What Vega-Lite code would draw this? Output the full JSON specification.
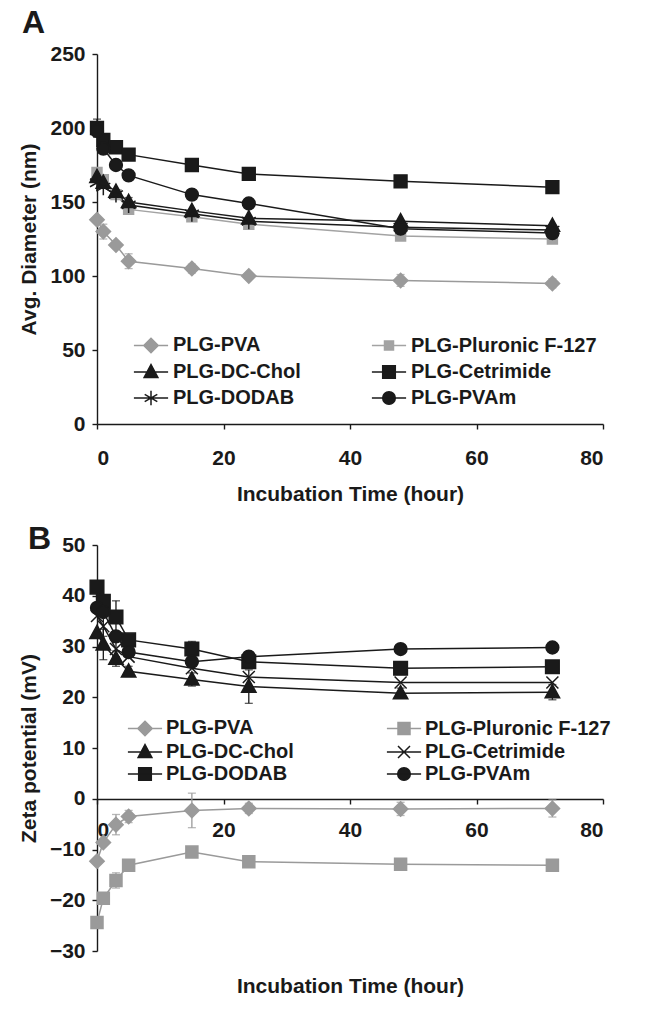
{
  "$schema": "https://vega.github.io/schema/vega-lite/v6.json",
  "background": "white",
  "padding": {"left": 18, "top": 6, "right": 5, "bottom": 5},
  "spacing": 19,
  "config": {
    "view": {"stroke": null},
    "font": "Liberation Sans",
    "axis": {"domainColor": "#1a1a1a", "domainWidth": 1.4, "tickColor": "#1a1a1a", "tickWidth": 1.4, "tickSize": 5, "labelFont": "Liberation Sans", "labelFontSize": 21, "labelFontWeight": "bold", "labelColor": "#1a1a1a", "titleFont": "Liberation Sans", "titleFontSize": 21, "titleFontWeight": "bold", "titleColor": "#1a1a1a", "grid": false},
    "legend": {"labelFont": "Liberation Sans", "labelFontSize": 20, "labelFontWeight": "bold", "labelColor": "#1a1a1a", "labelLimit": 300, "symbolSize": 144, "symbolStrokeWidth": 1.5, "padding": 0},
    "title": {"font": "Liberation Sans", "fontSize": 32, "fontWeight": "bold", "anchor": "start", "color": "#1a1a1a", "frame": "group"}
  },
  "datasets": {
    "a": [
      {"series": "PLG-PVA", "t": 0, "v": 138}, {"series": "PLG-PVA", "t": 1, "v": 130, "err": 5}, {"series": "PLG-PVA", "t": 3, "v": 121}, {"series": "PLG-PVA", "t": 5, "v": 110, "err": 5}, {"series": "PLG-PVA", "t": 15, "v": 105, "err": 3}, {"series": "PLG-PVA", "t": 24, "v": 100}, {"series": "PLG-PVA", "t": 48, "v": 97, "err": 4}, {"series": "PLG-PVA", "t": 72, "v": 95, "err": 3},
      {"series": "PLG-Pluronic F-127", "t": 0, "v": 170}, {"series": "PLG-Pluronic F-127", "t": 1, "v": 165}, {"series": "PLG-Pluronic F-127", "t": 3, "v": 155}, {"series": "PLG-Pluronic F-127", "t": 5, "v": 145}, {"series": "PLG-Pluronic F-127", "t": 15, "v": 140}, {"series": "PLG-Pluronic F-127", "t": 24, "v": 135}, {"series": "PLG-Pluronic F-127", "t": 48, "v": 127}, {"series": "PLG-Pluronic F-127", "t": 72, "v": 125},
      {"series": "PLG-DC-Chol", "t": 0, "v": 167}, {"series": "PLG-DC-Chol", "t": 1, "v": 163}, {"series": "PLG-DC-Chol", "t": 3, "v": 157}, {"series": "PLG-DC-Chol", "t": 5, "v": 150, "err": 3}, {"series": "PLG-DC-Chol", "t": 15, "v": 144}, {"series": "PLG-DC-Chol", "t": 24, "v": 139}, {"series": "PLG-DC-Chol", "t": 48, "v": 137}, {"series": "PLG-DC-Chol", "t": 72, "v": 134},
      {"series": "PLG-Cetrimide", "t": 0, "v": 200, "err": 6}, {"series": "PLG-Cetrimide", "t": 1, "v": 192}, {"series": "PLG-Cetrimide", "t": 3, "v": 187}, {"series": "PLG-Cetrimide", "t": 5, "v": 182}, {"series": "PLG-Cetrimide", "t": 15, "v": 175}, {"series": "PLG-Cetrimide", "t": 24, "v": 169}, {"series": "PLG-Cetrimide", "t": 48, "v": 164}, {"series": "PLG-Cetrimide", "t": 72, "v": 160},
      {"series": "PLG-DODAB", "t": 0, "v": 163}, {"series": "PLG-DODAB", "t": 1, "v": 160}, {"series": "PLG-DODAB", "t": 3, "v": 155}, {"series": "PLG-DODAB", "t": 5, "v": 148}, {"series": "PLG-DODAB", "t": 15, "v": 142}, {"series": "PLG-DODAB", "t": 24, "v": 137}, {"series": "PLG-DODAB", "t": 48, "v": 133}, {"series": "PLG-DODAB", "t": 72, "v": 131},
      {"series": "PLG-PVAm", "t": 0, "v": 198, "err": 4}, {"series": "PLG-PVAm", "t": 1, "v": 186}, {"series": "PLG-PVAm", "t": 3, "v": 175}, {"series": "PLG-PVAm", "t": 5, "v": 168}, {"series": "PLG-PVAm", "t": 15, "v": 155}, {"series": "PLG-PVAm", "t": 24, "v": 149}, {"series": "PLG-PVAm", "t": 48, "v": 132}, {"series": "PLG-PVAm", "t": 72, "v": 129}
    ],
    "b": [
      {"series": "PLG-PVA", "t": 0, "v": -12.3}, {"series": "PLG-PVA", "t": 1, "v": -8.6}, {"series": "PLG-PVA", "t": 3, "v": -5.1, "err": 2}, {"series": "PLG-PVA", "t": 5, "v": -3.5, "err": 1.2}, {"series": "PLG-PVA", "t": 15, "v": -2.3, "err": 3.4}, {"series": "PLG-PVA", "t": 24, "v": -1.9, "err": 1}, {"series": "PLG-PVA", "t": 48, "v": -2, "err": 1.3}, {"series": "PLG-PVA", "t": 72, "v": -1.9, "err": 1.7},
      {"series": "PLG-Pluronic F-127", "t": 0, "v": -24.4, "err": 1}, {"series": "PLG-Pluronic F-127", "t": 1, "v": -19.6}, {"series": "PLG-Pluronic F-127", "t": 3, "v": -16.1, "err": 1.5}, {"series": "PLG-Pluronic F-127", "t": 5, "v": -13.1}, {"series": "PLG-Pluronic F-127", "t": 15, "v": -10.5}, {"series": "PLG-Pluronic F-127", "t": 24, "v": -12.4}, {"series": "PLG-Pluronic F-127", "t": 48, "v": -12.9}, {"series": "PLG-Pluronic F-127", "t": 72, "v": -13.1},
      {"series": "PLG-DC-Chol", "t": 0, "v": 32.7}, {"series": "PLG-DC-Chol", "t": 1, "v": 30.4, "err": 3}, {"series": "PLG-DC-Chol", "t": 3, "v": 27.6, "err": 1.5}, {"series": "PLG-DC-Chol", "t": 5, "v": 25.1, "err": 1}, {"series": "PLG-DC-Chol", "t": 15, "v": 23.5, "err": 1.3}, {"series": "PLG-DC-Chol", "t": 24, "v": 22.1, "err": 3.3}, {"series": "PLG-DC-Chol", "t": 48, "v": 20.8, "err": 1}, {"series": "PLG-DC-Chol", "t": 72, "v": 21, "err": 1.5},
      {"series": "PLG-Cetrimide", "t": 0, "v": 36}, {"series": "PLG-Cetrimide", "t": 1, "v": 34, "err": 2}, {"series": "PLG-Cetrimide", "t": 3, "v": 29.5, "err": 1.5}, {"series": "PLG-Cetrimide", "t": 5, "v": 28}, {"series": "PLG-Cetrimide", "t": 15, "v": 25.7}, {"series": "PLG-Cetrimide", "t": 24, "v": 24}, {"series": "PLG-Cetrimide", "t": 48, "v": 22.9}, {"series": "PLG-Cetrimide", "t": 72, "v": 22.9},
      {"series": "PLG-DODAB", "t": 0, "v": 41.7}, {"series": "PLG-DODAB", "t": 1, "v": 38.9}, {"series": "PLG-DODAB", "t": 3, "v": 35.8, "err": 3.2}, {"series": "PLG-DODAB", "t": 5, "v": 31.3}, {"series": "PLG-DODAB", "t": 15, "v": 29.5, "err": 1.5}, {"series": "PLG-DODAB", "t": 24, "v": 27}, {"series": "PLG-DODAB", "t": 48, "v": 25.7}, {"series": "PLG-DODAB", "t": 72, "v": 26},
      {"series": "PLG-PVAm", "t": 0, "v": 37.6}, {"series": "PLG-PVAm", "t": 1, "v": 36.8}, {"series": "PLG-PVAm", "t": 3, "v": 32}, {"series": "PLG-PVAm", "t": 5, "v": 28.9}, {"series": "PLG-PVAm", "t": 15, "v": 27}, {"series": "PLG-PVAm", "t": 24, "v": 28}, {"series": "PLG-PVAm", "t": 48, "v": 29.5}, {"series": "PLG-PVAm", "t": 72, "v": 29.8}
    ]
  },
  "resolve": {"scale": {"color": "independent", "shape": "independent", "stroke": "independent"}, "legend": {"color": "independent", "shape": "independent", "stroke": "independent"}},
  "vconcat": [
    {
      "title": {"text": "A", "offset": 3.5, "dx": -75},
      "width": 506,
      "height": 370,
      "data": {"name": "a"},
      "encoding": {
        "x": {"field": "t", "type": "quantitative", "scale": {"domain": [0, 80]}, "axis": {"values": [0, 20, 40, 60, 80], "title": "Incubation Time (hour)", "labelPadding": 18, "titlePadding": 15}},
        "y": {"field": "v", "type": "quantitative", "scale": {"domain": [0, 250]}, "axis": {"values": [0, 50, 100, 150, 200, 250], "title": "Avg. Diameter (nm)", "labelPadding": 7, "titlePadding": 10}}
      },
      "resolve": {"scale": {"color": "independent", "shape": "independent", "stroke": "independent"}},
      "layer": [
        {
          "transform": [{"filter": "datum.t < 0"}],
          "mark": {"type": "point", "filled": true, "strokeWidth": 1.5, "opacity": 1},
          "encoding": {
            "color": {"field": "series", "type": "nominal", "scale": {"domain": ["PLG-PVA", "PLG-Pluronic F-127", "PLG-DC-Chol", "PLG-Cetrimide", "PLG-DODAB", "PLG-PVAm"], "range": ["#9a9a9a", "#a3a3a3", "#1a1a1a", "#1a1a1a", "#1a1a1a", "#1a1a1a"]},
              "legend": {"orient": "none", "direction": "horizontal", "legendX": 44, "legendY": 281, "columns": 2, "columnPadding": 67, "rowPadding": 5, "labelOffset": 12, "title": null, "symbolOpacity": 1}},
            "stroke": {"field": "series", "type": "nominal", "scale": {"domain": ["PLG-PVA", "PLG-Pluronic F-127", "PLG-DC-Chol", "PLG-Cetrimide", "PLG-DODAB", "PLG-PVAm"], "range": ["#9a9a9a", "#a3a3a3", "#1a1a1a", "#1a1a1a", "#1a1a1a", "#1a1a1a"]},
              "legend": {"orient": "none", "direction": "horizontal", "legendX": 44, "legendY": 281, "columns": 2, "columnPadding": 67, "rowPadding": 5, "labelOffset": 12, "title": null, "symbolOpacity": 1}},
            "shape": {"field": "series", "type": "nominal", "scale": {"domain": ["PLG-PVA", "PLG-Pluronic F-127", "PLG-DC-Chol", "PLG-Cetrimide", "PLG-DODAB", "PLG-PVAm"], "range": ["M-2.85,0H2.85M0,-1.2L1.2,0L0,1.2L-1.2,0Z", "M-2.85,0H2.85M-0.75,-0.75H0.75V0.75H-0.75Z", "M-2.85,0H2.85M0,-1.25L1.15,0.9L-1.15,0.9Z", "M-2.85,0H2.85M-1.05,-1.05H1.05V1.05H-1.05Z", "M-2.85,0H2.85M0,-1.2V1.2M-1.05,-0.6L1.05,0.6M-1.05,0.6L1.05,-0.6", "M-2.85,0H2.85M-1.05,0A1.05,1.05,0,1,1,1.05,0A1.05,1.05,0,1,1,-1.05,0Z"]},
              "legend": {"orient": "none", "direction": "horizontal", "legendX": 44, "legendY": 281, "columns": 2, "columnPadding": 67, "rowPadding": 5, "labelOffset": 12, "title": null, "symbolOpacity": 1}}
          }
        },
        {
          "mark": {"type": "line", "strokeWidth": 1.5},
          "encoding": {"color": {"field": "series", "type": "nominal", "scale": {"domain": ["PLG-PVA", "PLG-Pluronic F-127", "PLG-DC-Chol", "PLG-Cetrimide", "PLG-DODAB", "PLG-PVAm"], "range": ["#9a9a9a", "#a3a3a3", "#1a1a1a", "#1a1a1a", "#1a1a1a", "#1a1a1a"]}, "legend": null}}
        },
        {
          "transform": [{"filter": "isValid(datum.err)"}],
          "mark": {"type": "errorbar", "ticks": {"size": 8}, "thickness": 1.3},
          "encoding": {"yError": {"field": "err"}, "color": {"field": "series", "type": "nominal", "scale": {"domain": ["PLG-PVA", "PLG-Pluronic F-127", "PLG-DC-Chol", "PLG-Cetrimide", "PLG-DODAB", "PLG-PVAm"], "range": ["#9a9a9a", "#a3a3a3", "#1a1a1a", "#1a1a1a", "#1a1a1a", "#1a1a1a"]}, "legend": null}}
        },
        {
          "mark": {"type": "point", "filled": true, "size": 256, "strokeWidth": 1.5, "opacity": 1},
          "encoding": {
            "color": {"field": "series", "type": "nominal", "scale": {"domain": ["PLG-PVA", "PLG-Pluronic F-127", "PLG-DC-Chol", "PLG-Cetrimide", "PLG-DODAB", "PLG-PVAm"], "range": ["#9a9a9a", "#a3a3a3", "#1a1a1a", "#1a1a1a", "#1a1a1a", "#1a1a1a"]}, "legend": null},
            "stroke": {"field": "series", "type": "nominal", "scale": {"domain": ["PLG-PVA", "PLG-Pluronic F-127", "PLG-DC-Chol", "PLG-Cetrimide", "PLG-DODAB", "PLG-PVAm"], "range": ["#9a9a9a", "#a3a3a3", "#1a1a1a", "#1a1a1a", "#1a1a1a", "#1a1a1a"]}, "legend": null},
            "shape": {"field": "series", "type": "nominal", "legend": null, "scale": {"domain": ["PLG-PVA", "PLG-Pluronic F-127", "PLG-DC-Chol", "PLG-Cetrimide", "PLG-DODAB", "PLG-PVAm"], "range": ["M0,-0.9L0.9,0L0,0.9L-0.9,0Z", "M-0.62,-0.62H0.62V0.62H-0.62Z", "M0,-0.95L0.9,0.7L-0.9,0.7Z", "M-0.8,-0.8H0.8V0.8H-0.8Z", "M0,-1V1M-0.87,-0.5L0.87,0.5M-0.87,0.5L0.87,-0.5", "M-0.8,0A0.8,0.8,0,1,1,0.8,0A0.8,0.8,0,1,1,-0.8,0Z"]}}
          }
        }
      ]
    },
    {
      "title": {"text": "B", "offset": -22, "dx": -69},
      "width": 506,
      "height": 406,
      "data": {"name": "b"},
      "encoding": {
        "x": {"field": "t", "type": "quantitative", "scale": {"domain": [0, 80]}},
        "y": {"field": "v", "type": "quantitative", "scale": {"domain": [-30, 50]}, "axis": {"values": [-30, -20, -10, 0, 10, 20, 30, 40, 50], "title": "Zeta potential (mV)", "labelPadding": 7, "titlePadding": 10}}
      },
      "resolve": {"axis": {"x": "independent"}, "scale": {"color": "independent", "shape": "independent", "stroke": "independent"}},
      "layer": [
        {
          "transform": [{"filter": "datum.t < 0"}],
          "mark": {"type": "point", "filled": true, "strokeWidth": 1.5, "opacity": 1},
          "encoding": {
            "x": {"field": "t", "type": "quantitative", "axis": null},
            "color": {"field": "series", "type": "nominal", "scale": {"domain": ["PLG-PVA", "PLG-Pluronic F-127", "PLG-DC-Chol", "PLG-Cetrimide", "PLG-DODAB", "PLG-PVAm"], "range": ["#9a9a9a", "#9a9a9a", "#1a1a1a", "#1a1a1a", "#1a1a1a", "#1a1a1a"]},
              "legend": {"orient": "none", "direction": "horizontal", "legendX": 38, "legendY": 173, "columns": 2, "columnPadding": 89, "rowPadding": 2, "labelOffset": 11, "title": null, "symbolOpacity": 1}},
            "stroke": {"field": "series", "type": "nominal", "scale": {"domain": ["PLG-PVA", "PLG-Pluronic F-127", "PLG-DC-Chol", "PLG-Cetrimide", "PLG-DODAB", "PLG-PVAm"], "range": ["#9a9a9a", "#9a9a9a", "#1a1a1a", "#1a1a1a", "#1a1a1a", "#1a1a1a"]},
              "legend": {"orient": "none", "direction": "horizontal", "legendX": 38, "legendY": 173, "columns": 2, "columnPadding": 89, "rowPadding": 2, "labelOffset": 11, "title": null, "symbolOpacity": 1}},
            "shape": {"field": "series", "type": "nominal", "scale": {"domain": ["PLG-PVA", "PLG-Pluronic F-127", "PLG-DC-Chol", "PLG-Cetrimide", "PLG-DODAB", "PLG-PVAm"], "range": ["M-2.85,0H2.85M0,-1.2L1.2,0L0,1.2L-1.2,0Z", "M-2.85,0H2.85M-1,-1H1V1H-1Z", "M-2.85,0H2.85M0,-1.25L1.15,0.9L-1.15,0.9Z", "M-2.85,0H2.85M-1,-1L1,1M-1,1L1,-1", "M-2.85,0H2.85M-1.05,-1.05H1.05V1.05H-1.05Z", "M-2.85,0H2.85M-1.05,0A1.05,1.05,0,1,1,1.05,0A1.05,1.05,0,1,1,-1.05,0Z"]},
              "legend": {"orient": "none", "direction": "horizontal", "legendX": 38, "legendY": 173, "columns": 2, "columnPadding": 89, "rowPadding": 2, "labelOffset": 11, "title": null, "symbolOpacity": 1}}
          }
        },
        {
          "mark": {"type": "line", "strokeWidth": 1.5},
          "encoding": {
            "x": {"field": "t", "type": "quantitative", "axis": {"orient": "bottom", "offset": -152, "values": [0, 20, 40, 60, 80], "title": null, "labelPadding": 15}},
            "color": {"field": "series", "type": "nominal", "scale": {"domain": ["PLG-PVA", "PLG-Pluronic F-127", "PLG-DC-Chol", "PLG-Cetrimide", "PLG-DODAB", "PLG-PVAm"], "range": ["#9a9a9a", "#9a9a9a", "#1a1a1a", "#1a1a1a", "#1a1a1a", "#1a1a1a"]}, "legend": null}}
        },
        {
          "transform": [{"filter": "isValid(datum.err)"}],
          "mark": {"type": "errorbar", "ticks": {"size": 8}, "thickness": 1.3},
          "encoding": {"x": {"field": "t", "type": "quantitative", "axis": null}, "yError": {"field": "err"}, "color": {"field": "series", "type": "nominal", "scale": {"domain": ["PLG-PVA", "PLG-Pluronic F-127", "PLG-DC-Chol", "PLG-Cetrimide", "PLG-DODAB", "PLG-PVAm"], "range": ["#9a9a9a", "#9a9a9a", "#1a1a1a", "#1a1a1a", "#1a1a1a", "#1a1a1a"]}, "legend": null}}
        },
        {
          "mark": {"type": "point", "filled": true, "size": 256, "strokeWidth": 1.5, "opacity": 1},
          "encoding": {
            "x": {"field": "t", "type": "quantitative", "axis": {"orient": "bottom", "title": "Incubation Time (hour)", "domain": false, "ticks": false, "labels": false, "titlePadding": 24}},
            "color": {"field": "series", "type": "nominal", "scale": {"domain": ["PLG-PVA", "PLG-Pluronic F-127", "PLG-DC-Chol", "PLG-Cetrimide", "PLG-DODAB", "PLG-PVAm"], "range": ["#9a9a9a", "#9a9a9a", "#1a1a1a", "#1a1a1a", "#1a1a1a", "#1a1a1a"]}, "legend": null},
            "stroke": {"field": "series", "type": "nominal", "scale": {"domain": ["PLG-PVA", "PLG-Pluronic F-127", "PLG-DC-Chol", "PLG-Cetrimide", "PLG-DODAB", "PLG-PVAm"], "range": ["#9a9a9a", "#9a9a9a", "#1a1a1a", "#1a1a1a", "#1a1a1a", "#1a1a1a"]}, "legend": null},
            "shape": {"field": "series", "type": "nominal", "legend": null, "scale": {"domain": ["PLG-PVA", "PLG-Pluronic F-127", "PLG-DC-Chol", "PLG-Cetrimide", "PLG-DODAB", "PLG-PVAm"], "range": ["M0,-0.9L0.9,0L0,0.9L-0.9,0Z", "M-0.75,-0.75H0.75V0.75H-0.75Z", "M0,-0.95L0.9,0.7L-0.9,0.7Z", "M-0.75,-0.75L0.75,0.75M-0.75,0.75L0.75,-0.75", "M-0.85,-0.85H0.85V0.85H-0.85Z", "M-0.8,0A0.8,0.8,0,1,1,0.8,0A0.8,0.8,0,1,1,-0.8,0Z"]}}
          }
        }
      ]
    }
  ]
}
